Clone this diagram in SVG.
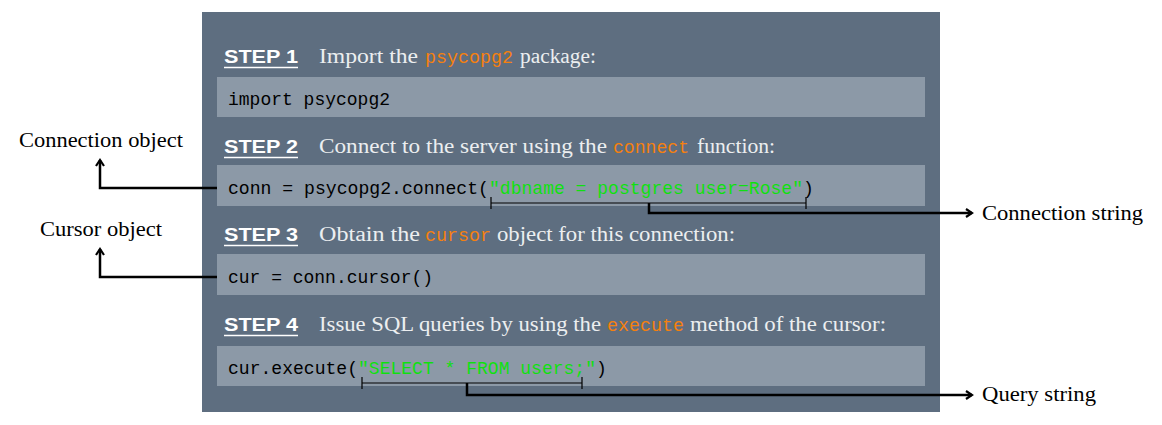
<svg xmlns="http://www.w3.org/2000/svg" width="1162" height="425" viewBox="0 0 1162 425">
<style>
.panel{fill:#5e6e80}
.code{fill:#8c99a7}
.step{font-family:"Liberation Sans",sans-serif;font-weight:bold;font-size:18px;fill:#ffffff}
.desc{font-family:"Liberation Serif",serif;font-size:20px;fill:#eceef0}
.mono{font-family:"Liberation Mono",monospace;font-size:18px}
.kw{fill:#f5800f}
.str{fill:#10e010}
.blk{fill:#000000}
.lbl{font-family:"Liberation Serif",serif;font-size:20px;fill:#000000}
.ul{stroke:#ffffff;stroke-width:1.6}
.conn{fill:none;stroke:#000000;stroke-width:2.5}
.brk{fill:none;stroke:#000000;stroke-width:1.2}
</style>
<defs>
<marker id="arr" viewBox="0 0 10 10" refX="8" refY="5" markerWidth="4" markerHeight="4" orient="auto" markerUnits="strokeWidth">
<path d="M2,1 L8,5 L2,9" fill="none" stroke="#000" stroke-width="2.2"/>
</marker>
</defs>
<rect class="panel" x="202" y="12" width="738" height="400"/>

<g id="step1">
<text class="step" x="224" y="63" textLength="74" lengthAdjust="spacingAndGlyphs">STEP 1</text>
<line class="ul" x1="224" y1="67.5" x2="298" y2="67.5"/>
<text class="desc" x="319" y="63" textLength="99" lengthAdjust="spacingAndGlyphs">Import the</text>
<text class="mono kw" x="425" y="63" textLength="88" lengthAdjust="spacingAndGlyphs">psycopg2</text>
<text class="desc" x="520" y="63" textLength="76" lengthAdjust="spacingAndGlyphs">package:</text>
<rect class="code" x="217" y="77" width="708" height="40"/>
<text class="mono blk" x="228" y="105" textLength="162" lengthAdjust="spacingAndGlyphs">import psycopg2</text>
</g>

<g id="step2">
<text class="step" x="224" y="153" textLength="74" lengthAdjust="spacingAndGlyphs">STEP 2</text>
<line class="ul" x1="224" y1="157.5" x2="298" y2="157.5"/>
<text class="desc" x="319" y="153" textLength="288" lengthAdjust="spacingAndGlyphs">Connect to the server using the</text>
<text class="mono kw" x="613" y="153" textLength="76" lengthAdjust="spacingAndGlyphs">connect</text>
<text class="desc" x="697" y="153" textLength="78" lengthAdjust="spacingAndGlyphs">function:</text>
<rect class="code" x="217" y="165" width="708" height="41"/>
<text class="mono blk" x="228" y="194" textLength="261" lengthAdjust="spacingAndGlyphs">conn = psycopg2.connect(</text>
<text class="mono str" x="489" y="194" textLength="314" lengthAdjust="spacingAndGlyphs">"dbname = postgres user=Rose"</text>
<text class="mono blk" x="803" y="194">)</text>
</g>

<g id="step3">
<text class="step" x="224" y="241" textLength="74" lengthAdjust="spacingAndGlyphs">STEP 3</text>
<line class="ul" x1="224" y1="245.5" x2="298" y2="245.5"/>
<text class="desc" x="319" y="241" textLength="101" lengthAdjust="spacingAndGlyphs">Obtain the</text>
<text class="mono kw" x="425" y="241" textLength="66" lengthAdjust="spacingAndGlyphs">cursor</text>
<text class="desc" x="497" y="241" textLength="238" lengthAdjust="spacingAndGlyphs">object for this connection:</text>
<rect class="code" x="217" y="254" width="708" height="41"/>
<text class="mono blk" x="228" y="283" textLength="205" lengthAdjust="spacingAndGlyphs">cur = conn.cursor()</text>
</g>

<g id="step4">
<text class="step" x="224" y="331" textLength="74" lengthAdjust="spacingAndGlyphs">STEP 4</text>
<line class="ul" x1="224" y1="335.5" x2="298" y2="335.5"/>
<text class="desc" x="319" y="331" textLength="282" lengthAdjust="spacingAndGlyphs">Issue SQL queries by using the</text>
<text class="mono kw" x="607" y="331" textLength="77" lengthAdjust="spacingAndGlyphs">execute</text>
<text class="desc" x="690" y="331" textLength="196" lengthAdjust="spacingAndGlyphs">method of the cursor:</text>
<rect class="code" x="217" y="346" width="708" height="40"/>
<text class="mono blk" x="228" y="374" textLength="130" lengthAdjust="spacingAndGlyphs">cur.execute(</text>
<text class="mono str" x="358" y="374" textLength="238" lengthAdjust="spacingAndGlyphs">"SELECT * FROM users;"</text>
<text class="mono blk" x="596" y="374">)</text>
</g>

<g id="label-connection-object">
<text class="lbl" x="101" y="147" text-anchor="middle" textLength="164" lengthAdjust="spacingAndGlyphs">Connection object</text>
</g>
<g id="label-cursor-object">
<text class="lbl" x="101" y="236" text-anchor="middle" textLength="122" lengthAdjust="spacingAndGlyphs">Cursor object</text>
</g>
<g id="label-connection-string">
<text class="lbl" x="982" y="220" textLength="161" lengthAdjust="spacingAndGlyphs">Connection string</text>
</g>
<g id="label-query-string">
<text class="lbl" x="982" y="401" textLength="114" lengthAdjust="spacingAndGlyphs">Query string</text>
</g>

<g id="connectors">
<path class="brk" d="M491,197 V209 M491,203 H806 M806,197 V209"/>
<path class="brk" d="M362,377 V389 M362,383 H582 M582,377 V389"/>
<path class="conn" d="M217,188 H100 V160" marker-end="url(#arr)"/>
<path class="conn" d="M217,277 H100 V249" marker-end="url(#arr)"/>
<path class="conn" d="M649,203 V213 H972" marker-end="url(#arr)"/>
<path class="conn" d="M467,383 V395 H972" marker-end="url(#arr)"/>
</g>
</svg>
